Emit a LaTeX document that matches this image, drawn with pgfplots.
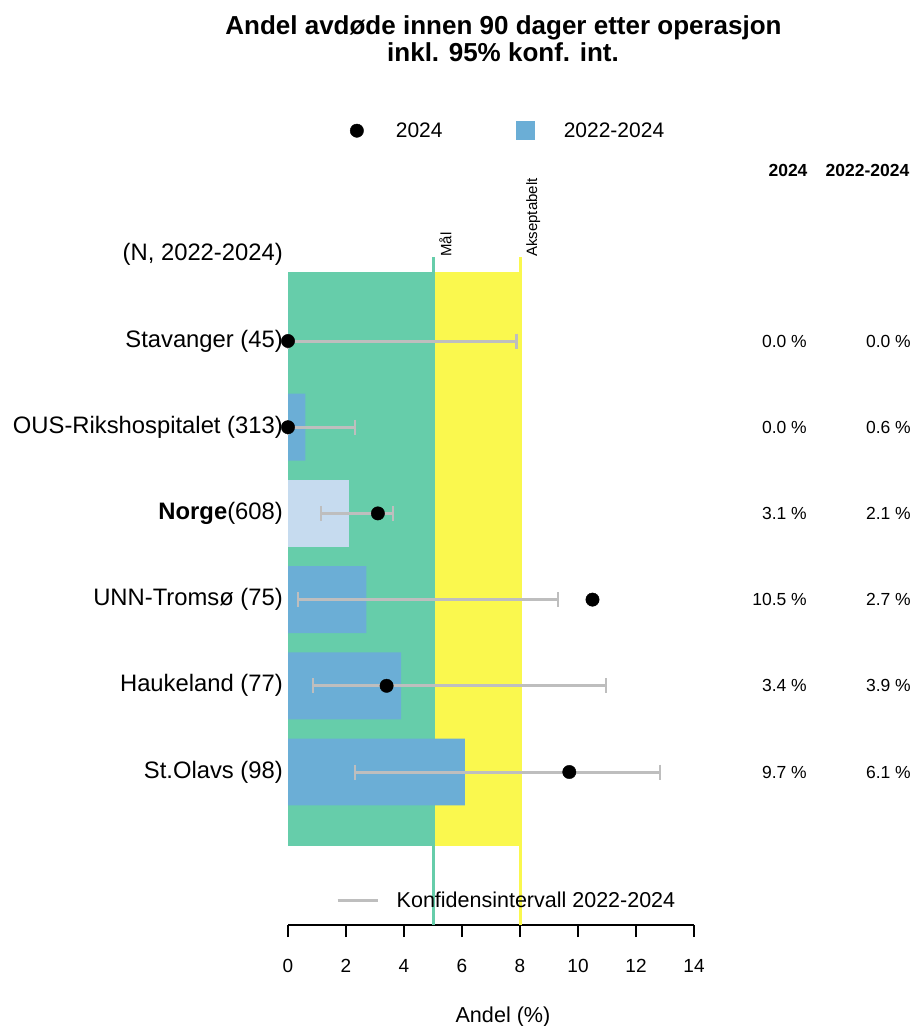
\documentclass[border=0pt]{standalone}
\usepackage{fontspec}
\setmainfont{Liberation Sans}
\usepackage{pgfplots}
\pgfplotsset{compat=1.18}
\definecolor{bgGreen}{HTML}{66CDAA}
\definecolor{bgYellow}{HTML}{FAF84E}
\definecolor{barBlue}{HTML}{6BAED6}
\definecolor{barLight}{HTML}{C6DBEF}
\definecolor{ciGray}{HTML}{BEBEBE}
\newcommand{\lab}{\fontsize{23.8bp}{28bp}\selectfont}
\newcommand{\val}{\fontsize{17.5bp}{21bp}\selectfont}
\begin{document}
\begin{tikzpicture}
\useasboundingbox (0,0) rectangle (914bp,-1026bp);
\node[font=\fontsize{26bp}{30bp}\selectfont\bfseries, anchor=base, inner sep=0pt] at (503.5bp,-34bp) {Andel avdøde innen 90 dager etter operasjon};
\node[font=\fontsize{26bp}{30bp}\selectfont\bfseries, anchor=base, inner sep=0pt] at (503bp,-61bp) {inkl. 95\% konf. int.};

\begin{axis}[
  at={(288bp,-925bp)}, anchor=south west,
  scale only axis, width=406bp, height=670.2bp,
  xmin=0, xmax=14, ymin=-0.775, ymax=7,
  clip=false,
  axis x line=bottom, axis y line=none,
  x axis line style={-, line width=1.5bp, black},
  xtick={0,2,...,14},
  tick align=outside,
  major tick length=12bp,
  xtick style={line width=1.5bp, black},
  xticklabel style={font=\fontsize{19bp}{22bp}\selectfont, yshift=-19bp},
  /pgf/number format/assume math mode=true,
  xlabel={Andel (\%)},
  xlabel style={font=\fontsize{21.6bp}{25bp}\selectfont, at={(axis description cs:0.5,0)}, anchor=center, yshift=-92bp, xshift=12bp},
  legend style={at={(0.1448,1.1852)}, anchor=west, draw=none, fill=none,
    legend columns=2, font=\fontsize{21bp}{24bp}\selectfont,
    nodes={inner sep=0pt},
    /tikz/every even column/.append style={column sep=73bp}},
]
\addlegendimage{legend image code/.code={\path[draw=none,fill=none] (-6.7bp,-9bp) rectangle (39bp,9bp); \fill[black] (0bp,0bp) circle (6.7bp);}}
\addlegendentry{2024}
\addlegendimage{legend image code/.code={\path[draw=none,fill=none] (0bp,-9bp) rectangle (48bp,9bp); \fill[barBlue] (0bp,-9bp) rectangle (18bp,9bp);}}
\addlegendentry{2022-2024}

% target zones
\fill[bgGreen] (axis cs:0,0.142) rectangle (axis cs:5,6.80);
\fill[bgYellow] (axis cs:5,0.142) rectangle (axis cs:8,6.80);
\draw[bgGreen, line width=3bp] (axis cs:5,-0.775) -- (axis cs:5,6.975);
\draw[bgYellow, line width=3bp] (axis cs:8,-0.775) -- (axis cs:8,6.975);
\node[rotate=90, anchor=north west, inner sep=0pt, font=\fontsize{15bp}{18bp}\selectfont] at (axis cs:5.21,6.975) {Mål};
\node[rotate=90, anchor=north west, inner sep=0pt, font=\fontsize{15bp}{18bp}\selectfont] at (axis cs:8.21,6.975) {Akseptabelt};

% bars 2022-2024
\addplot[forget plot, xbar, bar width=0.777, bar shift=0pt, fill=barBlue, draw=none]
  coordinates {(0.0,6) (0.6,5) (2.7,3) (3.9,2) (6.1,1)};
\addplot[forget plot, xbar, bar width=0.777, bar shift=0pt, fill=barLight, draw=none]
  coordinates {(2.1,4)};

% confidence intervals 2022-2024
\addplot[forget plot, ciGray, line width=3bp, mark=|, mark size=7.5bp, mark options={line width=2.7bp}, unbounded coords=jump]
  coordinates {
  (0.00,6) (7.88,6) (nan,nan)
  (0.00,5) (2.31,5) (nan,nan)
  (1.14,4) (3.62,4) (nan,nan)
  (0.34,3) (9.31,3) (nan,nan)
  (0.86,2) (10.97,2) (nan,nan)
  (2.31,1) (12.83,1)
  };

% 2024 points
\addplot[forget plot, only marks, mark=*, mark size=6.7bp, black]
  coordinates {(0.0,6) (0.0,5) (3.1,4) (10.5,3) (3.4,2) (9.7,1)};

% category labels
\node[anchor=east, inner sep=0pt, font=\lab] at (axis cs:-0.172,7) {(N, 2022-2024)};
\node[anchor=east, inner sep=0pt, font=\lab] at (axis cs:-0.172,6) {Stavanger (45)};
\node[anchor=east, inner sep=0pt, font=\lab] at (axis cs:-0.172,5) {OUS-Rikshospitalet (313)};
\node[anchor=east, inner sep=0pt, font=\lab] at (axis cs:-0.172,4) {\textbf{Norge}(608)};
\node[anchor=east, inner sep=0pt, font=\lab] at (axis cs:-0.172,3) {UNN-Tromsø (75)};
\node[anchor=east, inner sep=0pt, font=\lab] at (axis cs:-0.172,2) {Haukeland (77)};
\node[anchor=east, inner sep=0pt, font=\lab] at (axis cs:-0.172,1) {St.Olavs (98)};
\end{axis}

\begin{axis}[
  at={(288bp,-925bp)}, anchor=south west,
  scale only axis, width=406bp, height=670.2bp,
  xmin=0, xmax=14, ymin=-0.775, ymax=7,
  hide axis,
  legend style={at={(0.1109,0.0373)}, anchor=west, draw=none, fill=none,
    font=\fontsize{21.5bp}{25bp}\selectfont, nodes={inner sep=0pt}},
]
\addlegendimage{legend image code/.code={\path[draw=none,fill=none] (0bp,-9bp) rectangle (59bp,9bp); \draw[ciGray, line width=3bp] (0bp,0bp) -- (40bp,0bp);}}
\addlegendentry{Konfidensintervall 2022-2024}
\end{axis}

% value columns
\node[anchor=base, inner sep=0pt, font=\val\bfseries] at (788bp,-176bp) {2024};
\node[anchor=base, inner sep=0pt, font=\val\bfseries] at (867.5bp,-176bp) {2022-2024};
\foreach \yy/\a/\b in {341/0.0/0.0, 427.2/0.0/0.6, 513.4/3.1/2.1, 599.6/10.5/2.7, 685.8/3.4/3.9, 772/9.7/6.1}{
  \node[anchor=base east, inner sep=0pt, font=\val] at (807bp,-\yy bp-6bp) {\a\ \%};
  \node[anchor=base east, inner sep=0pt, font=\val] at (911bp,-\yy bp-6bp) {\b\ \%};
}
\end{tikzpicture}
\end{document}
